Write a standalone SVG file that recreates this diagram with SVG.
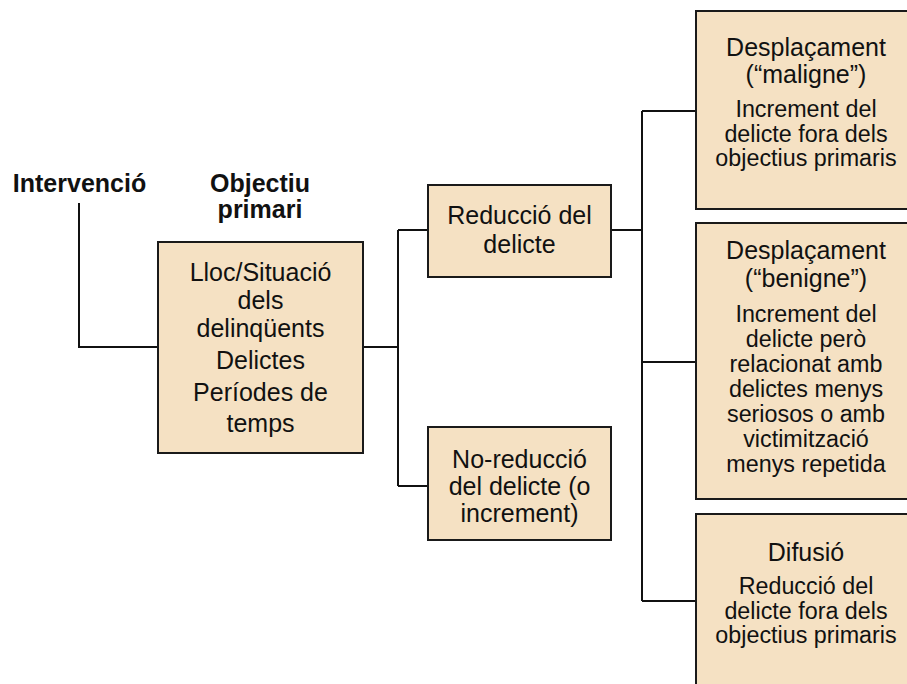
<svg xmlns="http://www.w3.org/2000/svg" width="907" height="684" viewBox="0 0 907 684">
<style>
.box{fill:#f5e1c3;stroke:#1a1a1a;stroke-width:2}
.ln{fill:none;stroke:#111;stroke-width:2}
text{font-family:"Liberation Sans",Arial,sans-serif;fill:#111;text-anchor:middle}
.t{font-size:25px}
.d{font-size:23.3px}
.b{font-size:25px;font-weight:bold}
</style>
<rect width="907" height="684" fill="#fff"/>
<g id="connectors">
<path class="ln" d="M79 203V347H158"/>
<path class="ln" d="M363 347H398M398 230V486M398 230H428M398 486H428"/>
<path class="ln" d="M611 230H642M642 111V601M642 111H696M642 362H696M642 601H696"/>
</g>
<g id="intervencio">
<text class="b" x="79.5" y="192">Intervenció</text>
</g>
<g id="objectiu-label">
<text class="b" x="260" y="192">Objectiu</text>
<text class="b" x="260" y="218">primari</text>
</g>
<g id="objectiu-primari">
<rect class="box" x="158" y="242" width="205" height="211"/>
<text class="t" x="260.5" y="281">Lloc/Situació</text>
<text class="t" x="260.5" y="309">dels</text>
<text class="t" x="260.5" y="337">delinqüents</text>
<text class="t" x="260.5" y="369">Delictes</text>
<text class="t" x="260.5" y="401">Períodes de</text>
<text class="t" x="260.5" y="432">temps</text>
</g>
<g id="reduccio">
<rect class="box" x="428" y="185" width="183" height="92"/>
<text class="t" x="519.5" y="224">Reducció del</text>
<text class="t" x="519.5" y="253">delicte</text>
</g>
<g id="no-reduccio">
<rect class="box" x="428" y="427" width="183" height="113"/>
<text class="t" x="519.5" y="468">No-reducció</text>
<text class="t" x="519.5" y="495">del delicte (o</text>
<text class="t" x="519.5" y="522">increment)</text>
</g>
<g id="desplacament-maligne">
<rect class="box" x="696" y="11" width="220" height="198"/>
<text class="t" x="806" y="56">Desplaçament</text>
<text class="t" x="806" y="83">(“maligne”)</text>
<text class="d" x="806" y="117">Increment del</text>
<text class="d" x="806" y="142">delicte fora dels</text>
<text class="d" x="806" y="166">objectius primaris</text>
</g>
<g id="desplacament-benigne">
<rect class="box" x="696" y="223" width="220" height="276"/>
<text class="t" x="806" y="259">Desplaçament</text>
<text class="t" x="806" y="287">(“benigne”)</text>
<text class="d" x="806" y="322">Increment del</text>
<text class="d" x="806" y="347">delicte però</text>
<text class="d" x="806" y="372">relacionat amb</text>
<text class="d" x="806" y="397">delictes menys</text>
<text class="d" x="806" y="422">seriosos o amb</text>
<text class="d" x="806" y="447">victimització</text>
<text class="d" x="806" y="472">menys repetida</text>
</g>
<g id="difusio">
<rect class="box" x="696" y="514" width="220" height="190"/>
<text class="t" x="806" y="561">Difusió</text>
<text class="d" x="806" y="594">Reducció del</text>
<text class="d" x="806" y="619">delicte fora dels</text>
<text class="d" x="806" y="643">objectius primaris</text>
</g>
</svg>
